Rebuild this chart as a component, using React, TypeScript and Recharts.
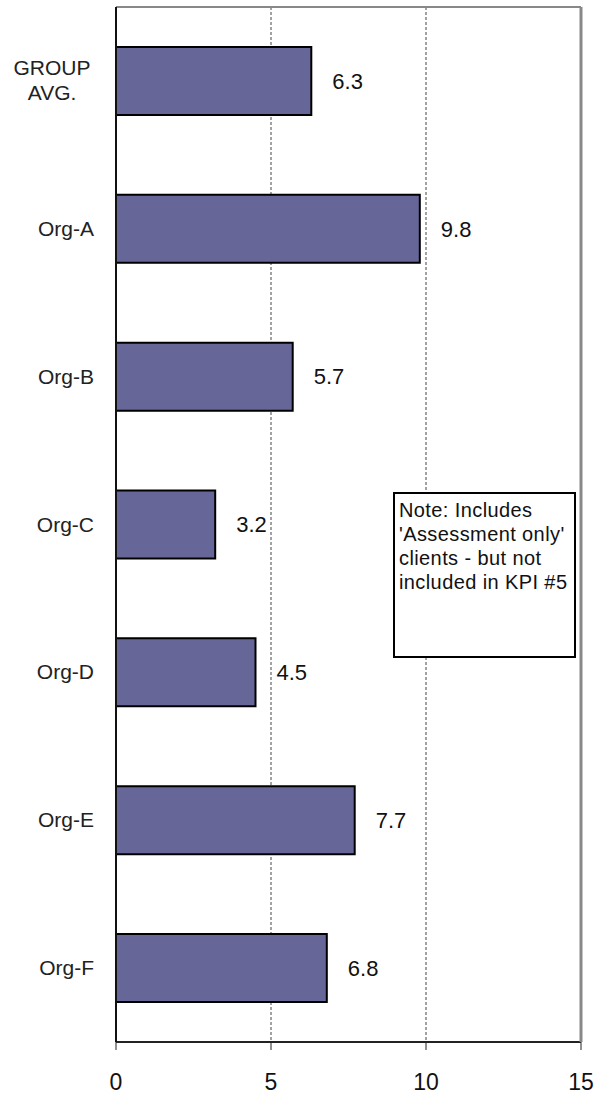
import { BarChart, Bar, XAxis, YAxis, CartesianGrid, LabelList } from 'recharts'

// horizontal bars per organisation
const categories = ['GROUP AVG.', 'Org-A', 'Org-B', 'Org-C', 'Org-D', 'Org-E', 'Org-F']
const values = [6.3, 9.8, 5.7, 3.2, 4.5, 7.7, 6.8]
const xTicks = [0, 5, 10, 15]
const rowEdges = [0, 1, 2, 3, 4, 5, 6, 7]
const noteLines = ['Note: Includes', "'Assessment only'", 'clients - but not', 'included in KPI #5']

const data = categories.map((name, i) => ({ name, value: values[i] }))

const FONT = '"Liberation Sans", Arial, sans-serif'

function CategoryTick({ x, y, payload }: any) {
  const lines = String(payload.value).split(' ')
  const lh = 25
  const multi = lines.length > 1
  const tx = multi ? x - 42 : x
  const first = -((lines.length - 1) * lh) / 2
  return (
    <text x={tx} y={y} textAnchor={multi ? 'middle' : 'end'} fontSize={21} fill="#222" fontFamily={FONT}>
      {lines.map((l, i) => (
        <tspan key={i} x={tx} dy={i === 0 ? first + 7 : lh}>{l}</tspan>
      ))}
    </text>
  )
}

export default function App() {
  return (
    <div style={{ position: 'absolute', left: 0, top: 0, width: 594, height: 1097, background: '#fff' }}>
      <BarChart
        width={594}
        height={1097}
        data={data}
        layout="vertical"
        margin={{ top: 6, right: 12, bottom: 0, left: 0 }}
        barCategoryGap="27%"
      >
        <CartesianGrid horizontal={false} stroke="#444" strokeDasharray="3 2" />
        <XAxis
          type="number"
          domain={[0, 15]}
          ticks={xTicks}
          height={55}
          tickSize={8}
          tickMargin={24}
          axisLine={{ stroke: '#222', strokeWidth: 2 }}
          tickLine={{ stroke: '#222' }}
          tick={{ fontSize: 23, fill: '#111', fontFamily: FONT }}
        />
        <XAxis
          xAxisId="top"
          orientation="top"
          type="number"
          domain={[0, 15]}
          height={1}
          tick={false}
          tickLine={false}
          axisLine={{ stroke: '#888', strokeWidth: 2 }}
        />
        <YAxis
          type="number"
          domain={[0, 7]}
          ticks={rowEdges}
          width={1}
          tick={false}
          tickSize={7}
          axisLine={{ stroke: '#111', strokeWidth: 2 }}
          tickLine={{ stroke: '#222' }}
        />
        <YAxis
          yAxisId="cat"
          type="category"
          dataKey="name"
          width={115}
          interval={0}
          tickSize={0}
          tickMargin={21}
          tickLine={false}
          axisLine={false}
          tick={<CategoryTick />}
        />
        <YAxis
          yAxisId="right"
          orientation="right"
          type="number"
          domain={[0, 1]}
          width={1}
          tick={false}
          tickLine={false}
          axisLine={{ stroke: '#888', strokeWidth: 3 }}
        />
        <Bar yAxisId="cat" dataKey="value" fill="#666699" stroke="#000" strokeWidth={2} isAnimationActive={false}>
          <LabelList dataKey="value" position="right" offset={21} fontSize={22} fill="#111" fontFamily={FONT} />
        </Bar>
      </BarChart>
      <div
        style={{
          position: 'absolute',
          left: 393,
          top: 492,
          width: 183,
          height: 166,
          boxSizing: 'border-box',
          border: '2px solid #000',
          background: '#fff',
          padding: '4px 0 0 4px',
          fontFamily: FONT,
          fontSize: 20,
          letterSpacing: 0.4,
          lineHeight: '24px',
          color: '#111',
          whiteSpace: 'nowrap',
        }}
      >
        {noteLines.map((l, i) => (
          <div key={i}>{l}</div>
        ))}
      </div>
    </div>
  )
}
